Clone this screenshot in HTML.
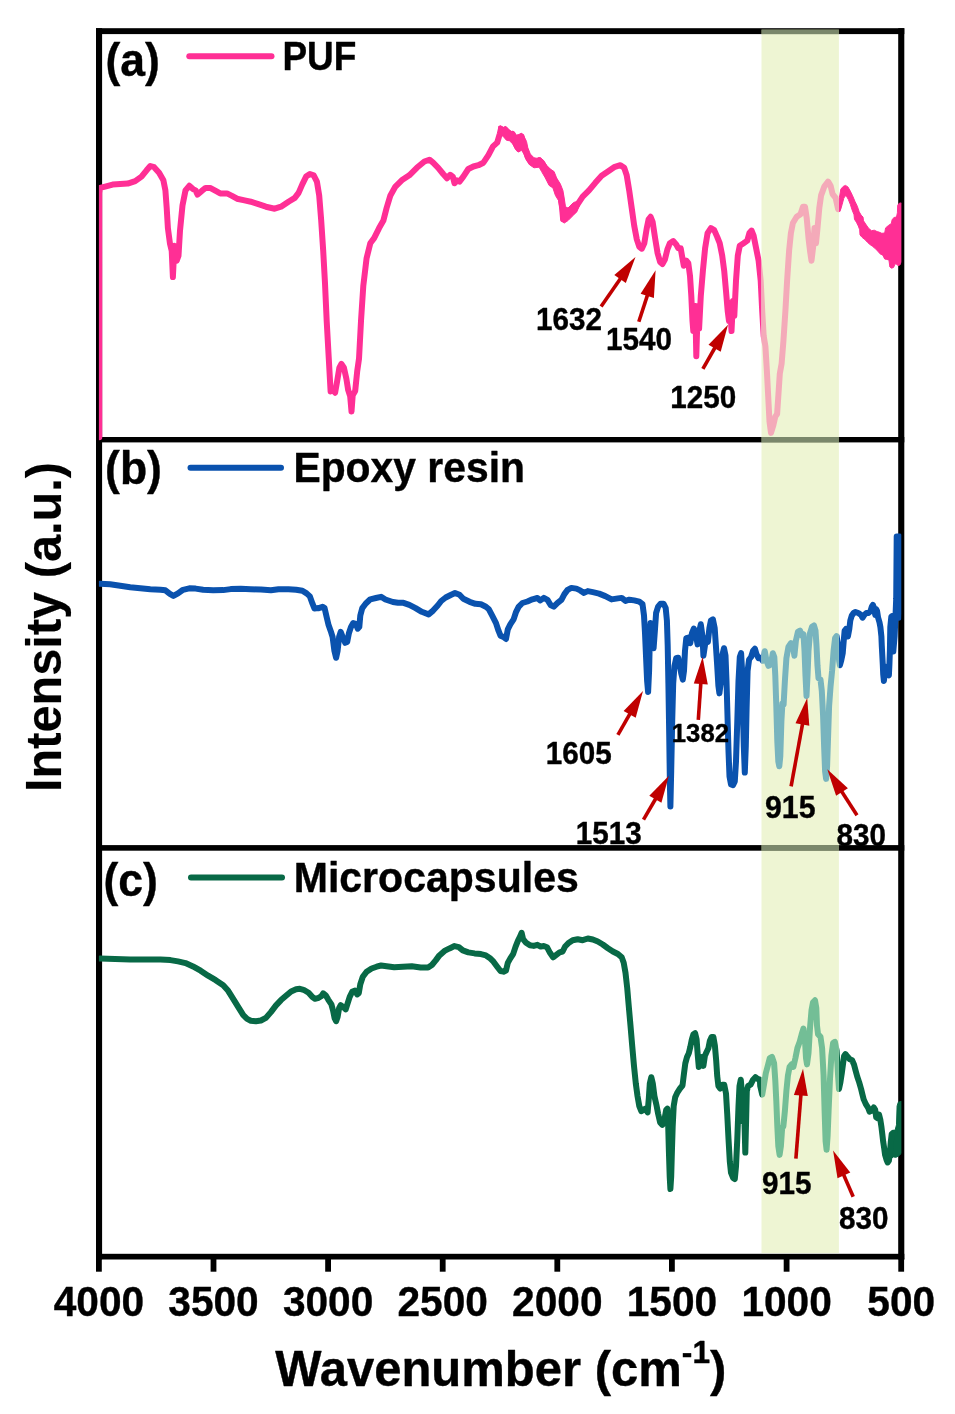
<!DOCTYPE html>
<html lang="en">
<head>
<meta charset="utf-8">
<title>FTIR spectra: PUF, Epoxy resin, Microcapsules</title>
<style>
html,body{margin:0;padding:0;background:#fff;}
body{width:955px;height:1414px;overflow:hidden;font-family:"Liberation Sans",Arial,sans-serif;}
svg{display:block;filter:blur(0.5px);}
</style>
</head>
<body>
<svg width="955" height="1414" viewBox="0 0 955 1414">
<rect width="955" height="1414" fill="#fff"/>
<g fill="#000">
<rect x="96" y="28.2" width="6.1" height="1231.3"/>
<rect x="898.2" y="28.2" width="6.1" height="1231.3"/>
<rect x="96" y="28.2" width="808.3" height="5.9"/>
<rect x="96" y="437" width="808.3" height="5.4"/>
<rect x="96" y="845.1" width="808.3" height="5.6"/>
<rect x="96" y="1253.8" width="808.3" height="5.7"/>
<rect x="96.0" y="1258" width="5.8" height="13.7"/>
<rect x="210.6" y="1258" width="5.8" height="13.7"/>
<rect x="325.2" y="1258" width="5.8" height="13.7"/>
<rect x="439.8" y="1258" width="5.8" height="13.7"/>
<rect x="554.4" y="1258" width="5.8" height="13.7"/>
<rect x="669.0" y="1258" width="5.8" height="13.7"/>
<rect x="783.7" y="1258" width="5.8" height="13.7"/>
<rect x="898.3" y="1258" width="5.8" height="13.7"/>
</g>
<rect x="761.5" y="29.6" width="77.4" height="1223.6" fill="rgb(224,237,175)" fill-opacity="0.55"/>
<rect x="761.5" y="29.6" width="77.4" height="4.5" fill="#7a876b"/>
<rect x="761.5" y="437" width="77.4" height="5.4" fill="#7a876b"/>
<rect x="761.5" y="845.1" width="77.4" height="5.6" fill="#7a876b"/>
<clipPath id="clipL"><rect x="98.9" y="0" width="662.6" height="1414"/></clipPath>
<clipPath id="clipR"><rect x="838.9" y="0" width="62.4" height="1414"/></clipPath>
<clipPath id="clipB"><rect x="761.5" y="0" width="77.4" height="1414"/></clipPath>
<g fill="none" stroke-linejoin="round" stroke-linecap="round" stroke-width="6" clip-path="url(#clipL)">
<polyline stroke="#ff2f95" points="99.3,437.2 99.3,192.9 100.0,187.9 105.1,186.6 112.6,184.6 120.2,184.1 127.7,183.6 135.2,181.1 141.5,176.6 146.6,170.3 150.3,166.0 154.1,167.2 159.1,172.8 163.4,180.3 165.4,190.4 166.7,208.0 167.9,228.1 169.9,243.2 171.7,250.7 172.9,277.1 174.4,245.7 176.7,260.7 178.5,255.7 180.0,230.6 182.5,205.4 185.5,190.4 189.3,185.8 193.0,189.1 195.6,190.4 197.6,194.6 201.8,190.9 205.6,187.9 210.1,187.9 215.7,190.9 220.2,193.4 227.0,193.4 232.0,195.9 237.0,198.7 244.6,200.4 250.8,201.7 258.4,204.2 265.9,206.7 274.7,208.7 281.0,206.7 288.5,201.7 294.8,197.9 298.6,192.9 302.4,184.1 306.1,176.6 309.9,174.0 313.7,175.3 316.9,181.6 319.2,195.4 321.2,220.5 323.2,250.7 325.0,283.4 326.7,321.1 328.8,358.8 330.6,391.4 333.1,390.2 335.1,392.7 337.1,381.4 339.4,367.6 341.4,363.8 343.9,367.6 346.4,378.9 348.2,390.2 350.2,396.4 351.5,411.5 352.7,395.2 355.2,390.9 357.2,371.3 359.0,358.8 361.0,321.1 363.3,285.9 366.6,258.2 370.3,243.2 374.1,238.1 379.1,228.1 383.4,220.5 386.6,208.0 390.4,195.4 395.4,186.6 401.7,180.3 409.3,175.3 416.8,167.8 424.4,161.5 429.4,159.7 433.1,162.7 438.2,167.8 443.2,174.0 447.0,178.3 450.2,174.8 452.8,176.6 454.5,183.3 457.0,180.3 459.5,181.6 463.3,176.6 468.3,169.0 473.4,166.5 478.4,165.2 483.4,162.7 488.4,155.2 493.0,146.4 497.2,142.6 499.8,133.8 501.0,128.8 503.0,132.6 504.8,129.6 506.8,135.1 508.5,132.6 510.6,137.6 512.6,133.8 514.8,141.4 516.6,145.1 518.6,148.9 520.1,141.4 521.6,136.3 523.1,143.9 524.9,148.9 527.4,156.4 531.2,162.7 536.2,164.0 539.2,160.2 542.5,164.0 545.0,167.8 550.0,174.0 553.8,179.1 557.6,186.6 560.6,195.4 562.1,208.0 563.1,219.3 566.4,216.8 570.2,213.0 573.9,210.5 577.7,204.2 582.7,196.7 589.0,190.4 595.3,182.8 601.6,175.8 607.9,171.5 614.1,167.2 620.4,165.2 624.2,167.8 626.7,175.3 629.2,190.4 631.7,208.0 634.2,225.6 636.8,239.4 639.3,246.9 641.8,248.7 644.3,243.2 646.8,228.1 648.6,219.3 650.6,216.8 652.6,221.8 655.1,238.1 657.6,253.2 660.1,262.0 662.4,264.0 664.9,259.5 667.4,249.4 669.9,243.2 673.2,241.1 676.2,244.4 678.2,248.2 680.7,248.2 682.0,255.7 683.8,265.8 686.3,260.7 688.3,263.2 690.0,275.8 691.3,295.9 692.5,321.1 693.3,331.1 695.3,306.0 696.3,356.2 697.8,306.0 699.1,328.6 700.8,295.9 702.9,270.8 705.1,248.2 707.6,233.1 710.9,228.1 714.2,230.1 717.2,236.9 719.7,243.2 722.2,255.7 724.2,270.8 726.0,290.9 727.7,311.0 729.0,321.1 730.2,303.5 731.5,331.1 733.0,300.9 734.3,316.0 736.0,280.8 737.8,255.7 739.8,245.7 743.6,243.2 747.3,240.6 749.4,233.1 751.6,230.6 753.6,235.6 756.1,248.2 758.6,260.7 760.7,280.8 762.2,311.0 763.7,336.1 765.4,346.2 766.9,371.3 768.2,396.4 769.5,421.6 771.0,432.9 773.3,425.4 775.3,416.6 777.1,414.0 778.3,396.4 779.8,373.8 781.6,363.8 783.4,341.2 785.4,311.0 787.1,280.8 789.1,250.7 790.9,233.1 792.9,223.0 796.7,216.8 800.5,214.2 803.0,206.7 805.0,206.7 806.7,218.0 808.5,238.1 810.0,250.7 811.5,260.7 813.0,248.2 814.5,228.1 816.0,243.2 817.5,228.1 819.3,208.0 821.1,195.4 824.3,186.6 828.1,181.6 830.6,185.8 832.6,194.1 835.6,197.9 838.1,209.2"/>
<polygon stroke="#ff2f95" stroke-width="1" fill="#ff2f95" points="839.0,209.9 839.4,197.7 840.8,189.2 843.2,186.4 845.5,185.4 847.9,186.9 850.3,191.1 852.6,195.8 855.0,201.5 857.3,206.2 859.2,211.8 861.1,215.1 863.0,217.0 863.5,220.8 866.3,225.0 868.6,228.3 871.5,230.7 874.3,230.2 877.1,231.6 879.0,232.1 881.8,233.3 884.7,233.0 885.6,227.9 888.4,225.5 891.3,223.6 892.2,219.4 894.1,217.5 896.5,217.0 897.4,212.8 897.7,205.2 899.3,203.2 901.6,202.9 901.6,261.8 899.8,265.1 897.9,265.6 896.0,263.7 895.0,264.1 893.6,267.4 891.7,268.2 889.9,267.0 888.9,259.9 886.5,259.4 884.7,259.0 882.8,255.2 880.0,253.8 878.1,251.4 875.2,248.6 872.4,246.2 869.6,244.3 867.2,242.0 864.9,239.6 862.0,237.3 860.0,234.9 859.7,229.8 858.3,226.0 856.4,222.2 854.5,219.4 854.0,214.7 852.1,209.9 850.3,204.3 848.4,199.6 846.5,196.3 845.1,195.8 843.7,198.6 842.2,204.3 840.8,209.0 839.0,211.4"/>
<polygon stroke="#ff2f95" stroke-width="1" fill="#ff2f95" points="498.9,126.3 500.7,125.7 503.2,127.6 505.8,126.3 508.3,128.8 510.8,131.4 513.3,131.4 516.4,135.1 519.0,134.5 521.5,133.2 524.0,136.4 526.5,141.4 527.8,147.7 530.3,154.0 534.0,157.8 537.8,158.4 540.3,157.8 543.5,160.3 546.6,165.3 550.4,169.1 554.1,171.6 556.6,177.9 560.4,184.1 562.9,190.4 564.2,198.0 565.5,206.8 568.0,208.0 573.0,203.0 575.5,201.7 579.3,205.5 576.8,211.8 573.0,215.6 568.0,220.6 564.2,223.1 561.0,220.6 560.4,210.5 558.5,200.5 555.4,195.4 552.9,187.9 549.1,185.4 545.3,177.9 541.6,171.6 539.1,167.2 534.0,167.8 530.3,165.3 526.5,160.3 524.0,154.0 521.5,150.2 518.3,152.1 515.2,148.9 512.7,143.9 509.5,140.8 506.4,140.2 503.2,136.4 501.4,135.1 500.1,132.6 498.9,130.1"/>
<polygon stroke="#086946" stroke-width="1" fill="#086946" points="891.3,1133.3 893.1,1130.5 895.0,1130.5 896.5,1124.8 897.1,1106.0 898.3,1102.2 901.6,1101.3 901.6,1153.1 898.8,1155.9 896.0,1157.3 893.1,1156.9 891.3,1158.8 890.3,1159.7"/>
<polyline stroke="#0a52ae" points="100.0,583.8 110.1,584.3 120.2,585.8 130.2,587.3 140.3,588.3 150.3,589.3 160.4,589.8 165.4,590.3 169.9,593.9 173.4,595.9 178.0,593.4 183.0,589.8 189.3,588.3 195.6,588.6 203.1,589.8 213.2,590.3 223.2,590.1 230.7,589.1 240.8,588.8 250.8,589.3 260.9,589.6 270.9,590.3 278.5,589.3 288.5,589.3 296.1,589.8 302.4,590.8 306.6,593.4 309.9,596.4 312.4,603.4 314.4,608.4 318.7,607.9 318.8,608.1 322.6,606.8 324.6,608.1 326.6,616.9 328.4,624.4 330.6,630.7 332.6,637.0 334.4,650.8 336.1,657.8 337.6,650.8 339.1,637.0 340.7,631.9 342.7,637.0 345.2,642.8 347.2,642.0 348.9,633.2 351.0,626.9 353.2,623.1 355.7,623.9 357.8,628.7 359.3,626.9 360.3,615.6 362.3,608.1 365.8,603.5 370.3,599.3 375.9,598.0 381.1,596.8 385.4,599.5 392.9,602.0 398.0,602.8 403.5,602.8 409.3,604.8 415.6,608.1 421.8,611.8 428.6,614.4 433.1,610.6 437.7,605.5 441.2,601.0 445.7,597.5 450.7,595.0 455.0,593.0 459.5,594.8 463.3,598.8 469.6,601.8 475.4,603.8 480.9,604.3 485.9,606.8 488.9,609.3 492.2,615.6 496.0,623.1 498.5,630.7 500.5,635.7 503.5,637.0 506.0,639.0 507.8,629.4 510.3,624.4 513.6,619.4 516.1,611.8 518.6,606.8 522.4,603.0 527.4,601.5 532.4,599.3 537.4,598.0 540.0,600.4 543.8,597.9 547.5,599.9 550.6,605.0 553.8,606.7 557.6,602.9 561.4,599.9 564.4,594.1 567.6,589.9 571.4,587.9 576.4,588.6 580.2,590.4 584.0,592.9 587.8,591.1 592.8,592.1 599.1,593.6 605.3,596.1 611.6,599.4 617.9,598.4 621.7,597.9 625.5,600.9 629.2,599.7 634.2,600.4 639.3,601.7 642.5,604.2 644.0,615.5 645.0,633.1 646.1,658.2 647.1,680.8 648.1,692.1 649.1,670.8 649.8,640.6 650.6,623.0 652.1,635.6 653.6,648.2 654.9,630.6 656.1,613.0 658.1,606.7 660.6,603.7 663.6,603.7 665.7,608.0 666.9,620.5 667.7,645.7 668.4,683.4 669.2,733.6 669.9,783.9 670.4,806.5 671.2,771.3 672.2,721.1 673.2,683.4 674.5,665.8 676.2,658.2 678.2,657.7 679.7,664.5 681.2,673.3 682.8,679.6 684.0,670.8 685.0,650.7 686.3,638.1 688.3,637.6 690.3,643.1 692.0,633.1 693.8,628.6 695.8,634.4 697.6,644.4 698.8,633.1 700.8,624.3 702.4,635.6 703.4,655.7 704.9,645.7 706.4,638.1 707.9,641.9 709.4,628.1 710.9,620.5 712.9,619.3 714.7,628.1 715.9,645.7 717.2,665.8 718.4,685.9 719.4,693.4 721.0,680.8 722.2,655.7 724.0,648.2 725.5,655.7 726.5,680.8 727.5,716.0 728.5,751.2 729.5,776.4 731.0,784.4 733.0,785.1 734.8,781.4 736.0,761.3 737.3,721.1 738.5,680.8 739.8,657.0 741.1,653.2 742.1,670.8 742.8,708.5 743.8,746.2 744.8,772.6 745.8,746.2 746.6,708.5 747.6,670.8 749.1,659.5 751.1,657.0 753.1,650.7 754.9,648.7 756.6,654.5 758.6,658.2 760.7,657.7 762.8,660.7 764.8,651.2 766.5,660.7 768.5,665.8 770.8,664.5 772.8,653.2 774.3,657.0 775.3,675.8 776.3,706.0 777.3,741.2 778.3,761.3 779.3,766.3 780.3,756.2 781.4,721.1 782.4,703.5 783.6,704.7 784.9,680.8 786.4,658.2 788.4,646.9 790.9,643.1 792.9,645.7 794.4,655.7 795.9,640.6 797.9,631.8 800.0,630.6 802.0,635.6 803.5,634.4 804.5,650.7 805.5,675.8 806.5,695.9 807.5,675.8 808.5,650.7 810.0,633.1 812.0,626.8 814.0,625.5 815.5,630.6 816.5,645.7 817.5,665.8 818.5,678.3 820.5,679.6 821.8,690.9 823.1,716.0 824.1,746.2 825.1,771.3 826.1,778.9 827.1,766.3 828.1,736.1 829.1,706.0 830.6,685.9 832.1,670.8 833.6,650.7 835.1,638.1 836.6,636.1 838.1,645.7 839.1,660.7 839.9,665.3 841.3,660.1 842.7,653.5 843.7,641.3 844.6,630.9 846.0,629.0 847.4,630.9 847.9,636.5 849.3,629.0 850.3,620.5 851.7,615.8 853.6,613.0 855.5,612.0 858.3,613.0 861.1,614.9 862.5,617.7 864.4,614.9 866.3,613.0 868.6,613.0 870.5,611.1 871.9,606.4 872.9,605.0 874.3,608.3 875.2,614.9 876.2,609.2 877.1,611.1 878.1,617.7 879.5,622.4 880.4,627.1 881.4,636.5 881.8,646.0 882.3,655.4 882.8,664.8 883.2,674.2 883.9,680.9 884.7,674.2 885.6,666.7 886.5,670.5 888.0,674.2 888.9,675.2 889.4,664.8 889.9,650.7 890.3,627.1 891.3,616.8 892.7,615.8 893.6,627.1 893.3,651.6 894.6,636.5 895.5,615.8 896.2,598.9 896.7,536.6 899.3,536.6 899.8,603.6 898.6,617.7"/>
<polyline stroke="#086946" points="100.0,958.6 115.1,958.9 130.2,959.4 145.3,959.4 160.4,959.4 170.4,960.1 178.0,961.4 185.5,963.1 193.0,966.4 200.6,970.7 208.1,975.7 215.7,980.2 223.2,985.3 228.2,990.8 233.2,998.8 238.3,1007.1 243.3,1015.2 247.1,1018.9 250.8,1020.7 255.9,1021.2 260.9,1020.5 265.9,1017.9 270.9,1012.1 276.0,1005.4 281.0,1000.1 286.0,995.8 291.1,991.5 296.1,989.3 299.9,988.8 303.6,989.8 308.6,992.8 312.4,997.1 314.9,998.8 318.7,997.8 321.2,996.3 323.2,993.3 325.7,995.3 328.2,999.6 331.4,1004.4 333.1,1010.7 334.6,1018.2 336.1,1021.2 337.6,1017.0 339.1,1008.2 340.7,1005.2 343.2,1006.9 345.7,1009.4 347.7,1003.1 349.7,996.9 352.2,991.8 354.7,990.6 357.2,994.4 358.8,993.1 360.3,984.3 362.8,976.8 366.6,971.7 371.6,968.5 376.6,966.7 381.1,965.5 386.6,966.2 394.2,967.2 403.0,966.7 411.8,966.2 420.6,967.5 428.1,967.5 431.9,965.0 435.7,960.4 439.4,955.4 444.5,950.9 449.5,948.4 454.5,946.1 458.8,947.1 462.8,950.4 468.3,952.4 474.6,953.4 480.9,954.1 485.9,955.4 489.7,957.9 493.5,961.7 497.2,966.7 500.5,971.0 503.5,971.7 506.0,970.5 507.8,962.9 510.3,958.4 513.1,954.1 515.6,946.6 518.1,940.3 520.1,936.5 521.6,932.8 523.1,939.1 526.1,942.8 529.9,945.3 533.7,945.9 537.4,944.8 540.7,946.6 543.8,946.0 547.0,947.2 550.0,952.8 553.1,957.3 556.3,954.8 559.6,952.3 562.6,951.5 565.1,946.5 568.9,942.7 572.7,940.2 577.7,939.2 582.7,940.2 587.8,938.5 592.8,939.5 597.8,941.5 602.8,944.5 607.9,948.2 612.9,951.5 617.9,954.0 621.7,957.3 623.7,962.8 625.5,972.9 627.2,988.0 628.7,1005.5 630.5,1025.7 632.2,1045.8 634.0,1065.9 635.8,1083.5 637.5,1096.0 639.3,1106.1 641.3,1111.1 643.5,1109.8 645.5,1108.6 647.6,1112.4 648.8,1098.5 649.8,1083.5 651.3,1077.2 652.8,1083.5 654.4,1096.0 656.4,1104.8 658.1,1113.6 660.1,1122.4 662.4,1124.9 664.4,1119.9 666.2,1109.8 667.4,1108.6 668.2,1126.2 668.9,1151.3 669.7,1176.5 670.4,1189.0 671.2,1176.5 671.9,1151.3 672.7,1126.2 673.7,1106.1 675.2,1097.3 677.5,1092.3 680.0,1088.5 682.5,1085.5 684.0,1073.4 685.3,1063.4 687.0,1057.1 688.8,1053.3 690.3,1047.0 691.8,1039.5 693.3,1034.5 695.1,1033.2 696.6,1039.5 697.8,1055.8 698.8,1067.1 700.3,1060.8 701.9,1057.1 703.4,1065.9 704.9,1055.8 706.6,1052.0 708.4,1048.3 709.9,1040.7 711.6,1037.0 713.4,1037.0 714.9,1045.8 716.2,1060.8 717.2,1075.9 718.4,1086.0 720.2,1088.5 722.2,1084.7 724.2,1084.7 726.0,1093.5 727.2,1113.6 728.5,1138.8 729.8,1161.4 731.0,1172.7 733.0,1177.7 734.8,1179.0 736.0,1166.4 737.3,1138.8 738.5,1106.1 739.5,1086.0 740.8,1079.7 741.8,1091.0 742.6,1121.2 743.6,1096.0 744.6,1126.2 745.3,1152.6 746.1,1121.2 746.8,1091.0 748.1,1086.0 750.6,1084.7 753.1,1079.7 755.4,1077.2 757.6,1078.9 759.9,1079.7 760.2,1085.8 762.2,1094.6 764.0,1084.5 765.8,1073.2 767.8,1065.7 769.8,1058.1 772.0,1056.9 774.1,1063.2 775.3,1080.7 776.3,1100.8 777.3,1126.0 778.3,1146.1 779.6,1154.9 780.9,1146.1 782.1,1128.5 783.4,1126.0 784.9,1110.9 786.4,1090.8 787.9,1075.7 789.6,1066.9 791.6,1064.4 793.4,1066.9 795.4,1058.1 797.4,1048.1 799.7,1041.8 801.7,1034.2 803.5,1028.5 805.0,1040.5 806.0,1058.1 807.0,1064.4 808.5,1053.1 810.0,1028.0 811.5,1010.4 813.0,1002.3 815.0,1000.3 816.3,1007.9 817.0,1025.5 818.0,1034.2 820.5,1036.8 822.1,1048.1 823.6,1075.7 824.6,1110.9 825.6,1141.1 826.6,1149.8 827.6,1136.0 828.6,1110.9 829.9,1080.7 831.4,1055.6 833.1,1043.0 834.9,1041.8 836.6,1050.6 838.1,1075.7 839.0,1089.0 840.4,1082.4 841.8,1073.0 843.2,1062.6 844.1,1056.0 845.5,1054.1 847.4,1056.5 849.8,1059.3 852.1,1060.3 854.0,1064.5 855.5,1070.2 857.3,1076.8 859.2,1082.4 861.1,1089.0 862.5,1094.7 863.7,1099.4 865.8,1104.1 868.2,1107.9 869.6,1111.6 871.5,1110.7 873.8,1107.4 875.2,1109.8 876.2,1117.3 877.6,1118.2 879.0,1114.5 880.4,1120.1 881.4,1126.7 882.3,1134.2 883.2,1141.8 884.2,1148.4 885.1,1155.0 886.5,1159.7 887.7,1162.5 888.9,1160.6 889.9,1153.1 890.8,1141.8 891.7,1134.2 893.1,1132.8 895.0,1132.8"/>
</g>
<g fill="none" stroke-linejoin="round" stroke-linecap="round" stroke-width="6" clip-path="url(#clipR)">
<polyline stroke="#ff2f95" points="99.3,437.2 99.3,192.9 100.0,187.9 105.1,186.6 112.6,184.6 120.2,184.1 127.7,183.6 135.2,181.1 141.5,176.6 146.6,170.3 150.3,166.0 154.1,167.2 159.1,172.8 163.4,180.3 165.4,190.4 166.7,208.0 167.9,228.1 169.9,243.2 171.7,250.7 172.9,277.1 174.4,245.7 176.7,260.7 178.5,255.7 180.0,230.6 182.5,205.4 185.5,190.4 189.3,185.8 193.0,189.1 195.6,190.4 197.6,194.6 201.8,190.9 205.6,187.9 210.1,187.9 215.7,190.9 220.2,193.4 227.0,193.4 232.0,195.9 237.0,198.7 244.6,200.4 250.8,201.7 258.4,204.2 265.9,206.7 274.7,208.7 281.0,206.7 288.5,201.7 294.8,197.9 298.6,192.9 302.4,184.1 306.1,176.6 309.9,174.0 313.7,175.3 316.9,181.6 319.2,195.4 321.2,220.5 323.2,250.7 325.0,283.4 326.7,321.1 328.8,358.8 330.6,391.4 333.1,390.2 335.1,392.7 337.1,381.4 339.4,367.6 341.4,363.8 343.9,367.6 346.4,378.9 348.2,390.2 350.2,396.4 351.5,411.5 352.7,395.2 355.2,390.9 357.2,371.3 359.0,358.8 361.0,321.1 363.3,285.9 366.6,258.2 370.3,243.2 374.1,238.1 379.1,228.1 383.4,220.5 386.6,208.0 390.4,195.4 395.4,186.6 401.7,180.3 409.3,175.3 416.8,167.8 424.4,161.5 429.4,159.7 433.1,162.7 438.2,167.8 443.2,174.0 447.0,178.3 450.2,174.8 452.8,176.6 454.5,183.3 457.0,180.3 459.5,181.6 463.3,176.6 468.3,169.0 473.4,166.5 478.4,165.2 483.4,162.7 488.4,155.2 493.0,146.4 497.2,142.6 499.8,133.8 501.0,128.8 503.0,132.6 504.8,129.6 506.8,135.1 508.5,132.6 510.6,137.6 512.6,133.8 514.8,141.4 516.6,145.1 518.6,148.9 520.1,141.4 521.6,136.3 523.1,143.9 524.9,148.9 527.4,156.4 531.2,162.7 536.2,164.0 539.2,160.2 542.5,164.0 545.0,167.8 550.0,174.0 553.8,179.1 557.6,186.6 560.6,195.4 562.1,208.0 563.1,219.3 566.4,216.8 570.2,213.0 573.9,210.5 577.7,204.2 582.7,196.7 589.0,190.4 595.3,182.8 601.6,175.8 607.9,171.5 614.1,167.2 620.4,165.2 624.2,167.8 626.7,175.3 629.2,190.4 631.7,208.0 634.2,225.6 636.8,239.4 639.3,246.9 641.8,248.7 644.3,243.2 646.8,228.1 648.6,219.3 650.6,216.8 652.6,221.8 655.1,238.1 657.6,253.2 660.1,262.0 662.4,264.0 664.9,259.5 667.4,249.4 669.9,243.2 673.2,241.1 676.2,244.4 678.2,248.2 680.7,248.2 682.0,255.7 683.8,265.8 686.3,260.7 688.3,263.2 690.0,275.8 691.3,295.9 692.5,321.1 693.3,331.1 695.3,306.0 696.3,356.2 697.8,306.0 699.1,328.6 700.8,295.9 702.9,270.8 705.1,248.2 707.6,233.1 710.9,228.1 714.2,230.1 717.2,236.9 719.7,243.2 722.2,255.7 724.2,270.8 726.0,290.9 727.7,311.0 729.0,321.1 730.2,303.5 731.5,331.1 733.0,300.9 734.3,316.0 736.0,280.8 737.8,255.7 739.8,245.7 743.6,243.2 747.3,240.6 749.4,233.1 751.6,230.6 753.6,235.6 756.1,248.2 758.6,260.7 760.7,280.8 762.2,311.0 763.7,336.1 765.4,346.2 766.9,371.3 768.2,396.4 769.5,421.6 771.0,432.9 773.3,425.4 775.3,416.6 777.1,414.0 778.3,396.4 779.8,373.8 781.6,363.8 783.4,341.2 785.4,311.0 787.1,280.8 789.1,250.7 790.9,233.1 792.9,223.0 796.7,216.8 800.5,214.2 803.0,206.7 805.0,206.7 806.7,218.0 808.5,238.1 810.0,250.7 811.5,260.7 813.0,248.2 814.5,228.1 816.0,243.2 817.5,228.1 819.3,208.0 821.1,195.4 824.3,186.6 828.1,181.6 830.6,185.8 832.6,194.1 835.6,197.9 838.1,209.2"/>
<polygon stroke="#ff2f95" stroke-width="1" fill="#ff2f95" points="839.0,209.9 839.4,197.7 840.8,189.2 843.2,186.4 845.5,185.4 847.9,186.9 850.3,191.1 852.6,195.8 855.0,201.5 857.3,206.2 859.2,211.8 861.1,215.1 863.0,217.0 863.5,220.8 866.3,225.0 868.6,228.3 871.5,230.7 874.3,230.2 877.1,231.6 879.0,232.1 881.8,233.3 884.7,233.0 885.6,227.9 888.4,225.5 891.3,223.6 892.2,219.4 894.1,217.5 896.5,217.0 897.4,212.8 897.7,205.2 899.3,203.2 901.6,202.9 901.6,261.8 899.8,265.1 897.9,265.6 896.0,263.7 895.0,264.1 893.6,267.4 891.7,268.2 889.9,267.0 888.9,259.9 886.5,259.4 884.7,259.0 882.8,255.2 880.0,253.8 878.1,251.4 875.2,248.6 872.4,246.2 869.6,244.3 867.2,242.0 864.9,239.6 862.0,237.3 860.0,234.9 859.7,229.8 858.3,226.0 856.4,222.2 854.5,219.4 854.0,214.7 852.1,209.9 850.3,204.3 848.4,199.6 846.5,196.3 845.1,195.8 843.7,198.6 842.2,204.3 840.8,209.0 839.0,211.4"/>
<polygon stroke="#086946" stroke-width="1" fill="#086946" points="891.3,1133.3 893.1,1130.5 895.0,1130.5 896.5,1124.8 897.1,1106.0 898.3,1102.2 901.6,1101.3 901.6,1153.1 898.8,1155.9 896.0,1157.3 893.1,1156.9 891.3,1158.8 890.3,1159.7"/>
<polyline stroke="#0a52ae" points="100.0,583.8 110.1,584.3 120.2,585.8 130.2,587.3 140.3,588.3 150.3,589.3 160.4,589.8 165.4,590.3 169.9,593.9 173.4,595.9 178.0,593.4 183.0,589.8 189.3,588.3 195.6,588.6 203.1,589.8 213.2,590.3 223.2,590.1 230.7,589.1 240.8,588.8 250.8,589.3 260.9,589.6 270.9,590.3 278.5,589.3 288.5,589.3 296.1,589.8 302.4,590.8 306.6,593.4 309.9,596.4 312.4,603.4 314.4,608.4 318.7,607.9 318.8,608.1 322.6,606.8 324.6,608.1 326.6,616.9 328.4,624.4 330.6,630.7 332.6,637.0 334.4,650.8 336.1,657.8 337.6,650.8 339.1,637.0 340.7,631.9 342.7,637.0 345.2,642.8 347.2,642.0 348.9,633.2 351.0,626.9 353.2,623.1 355.7,623.9 357.8,628.7 359.3,626.9 360.3,615.6 362.3,608.1 365.8,603.5 370.3,599.3 375.9,598.0 381.1,596.8 385.4,599.5 392.9,602.0 398.0,602.8 403.5,602.8 409.3,604.8 415.6,608.1 421.8,611.8 428.6,614.4 433.1,610.6 437.7,605.5 441.2,601.0 445.7,597.5 450.7,595.0 455.0,593.0 459.5,594.8 463.3,598.8 469.6,601.8 475.4,603.8 480.9,604.3 485.9,606.8 488.9,609.3 492.2,615.6 496.0,623.1 498.5,630.7 500.5,635.7 503.5,637.0 506.0,639.0 507.8,629.4 510.3,624.4 513.6,619.4 516.1,611.8 518.6,606.8 522.4,603.0 527.4,601.5 532.4,599.3 537.4,598.0 540.0,600.4 543.8,597.9 547.5,599.9 550.6,605.0 553.8,606.7 557.6,602.9 561.4,599.9 564.4,594.1 567.6,589.9 571.4,587.9 576.4,588.6 580.2,590.4 584.0,592.9 587.8,591.1 592.8,592.1 599.1,593.6 605.3,596.1 611.6,599.4 617.9,598.4 621.7,597.9 625.5,600.9 629.2,599.7 634.2,600.4 639.3,601.7 642.5,604.2 644.0,615.5 645.0,633.1 646.1,658.2 647.1,680.8 648.1,692.1 649.1,670.8 649.8,640.6 650.6,623.0 652.1,635.6 653.6,648.2 654.9,630.6 656.1,613.0 658.1,606.7 660.6,603.7 663.6,603.7 665.7,608.0 666.9,620.5 667.7,645.7 668.4,683.4 669.2,733.6 669.9,783.9 670.4,806.5 671.2,771.3 672.2,721.1 673.2,683.4 674.5,665.8 676.2,658.2 678.2,657.7 679.7,664.5 681.2,673.3 682.8,679.6 684.0,670.8 685.0,650.7 686.3,638.1 688.3,637.6 690.3,643.1 692.0,633.1 693.8,628.6 695.8,634.4 697.6,644.4 698.8,633.1 700.8,624.3 702.4,635.6 703.4,655.7 704.9,645.7 706.4,638.1 707.9,641.9 709.4,628.1 710.9,620.5 712.9,619.3 714.7,628.1 715.9,645.7 717.2,665.8 718.4,685.9 719.4,693.4 721.0,680.8 722.2,655.7 724.0,648.2 725.5,655.7 726.5,680.8 727.5,716.0 728.5,751.2 729.5,776.4 731.0,784.4 733.0,785.1 734.8,781.4 736.0,761.3 737.3,721.1 738.5,680.8 739.8,657.0 741.1,653.2 742.1,670.8 742.8,708.5 743.8,746.2 744.8,772.6 745.8,746.2 746.6,708.5 747.6,670.8 749.1,659.5 751.1,657.0 753.1,650.7 754.9,648.7 756.6,654.5 758.6,658.2 760.7,657.7 762.8,660.7 764.8,651.2 766.5,660.7 768.5,665.8 770.8,664.5 772.8,653.2 774.3,657.0 775.3,675.8 776.3,706.0 777.3,741.2 778.3,761.3 779.3,766.3 780.3,756.2 781.4,721.1 782.4,703.5 783.6,704.7 784.9,680.8 786.4,658.2 788.4,646.9 790.9,643.1 792.9,645.7 794.4,655.7 795.9,640.6 797.9,631.8 800.0,630.6 802.0,635.6 803.5,634.4 804.5,650.7 805.5,675.8 806.5,695.9 807.5,675.8 808.5,650.7 810.0,633.1 812.0,626.8 814.0,625.5 815.5,630.6 816.5,645.7 817.5,665.8 818.5,678.3 820.5,679.6 821.8,690.9 823.1,716.0 824.1,746.2 825.1,771.3 826.1,778.9 827.1,766.3 828.1,736.1 829.1,706.0 830.6,685.9 832.1,670.8 833.6,650.7 835.1,638.1 836.6,636.1 838.1,645.7 839.1,660.7 839.9,665.3 841.3,660.1 842.7,653.5 843.7,641.3 844.6,630.9 846.0,629.0 847.4,630.9 847.9,636.5 849.3,629.0 850.3,620.5 851.7,615.8 853.6,613.0 855.5,612.0 858.3,613.0 861.1,614.9 862.5,617.7 864.4,614.9 866.3,613.0 868.6,613.0 870.5,611.1 871.9,606.4 872.9,605.0 874.3,608.3 875.2,614.9 876.2,609.2 877.1,611.1 878.1,617.7 879.5,622.4 880.4,627.1 881.4,636.5 881.8,646.0 882.3,655.4 882.8,664.8 883.2,674.2 883.9,680.9 884.7,674.2 885.6,666.7 886.5,670.5 888.0,674.2 888.9,675.2 889.4,664.8 889.9,650.7 890.3,627.1 891.3,616.8 892.7,615.8 893.6,627.1 893.3,651.6 894.6,636.5 895.5,615.8 896.2,598.9 896.7,536.6 899.3,536.6 899.8,603.6 898.6,617.7"/>
<polyline stroke="#086946" points="100.0,958.6 115.1,958.9 130.2,959.4 145.3,959.4 160.4,959.4 170.4,960.1 178.0,961.4 185.5,963.1 193.0,966.4 200.6,970.7 208.1,975.7 215.7,980.2 223.2,985.3 228.2,990.8 233.2,998.8 238.3,1007.1 243.3,1015.2 247.1,1018.9 250.8,1020.7 255.9,1021.2 260.9,1020.5 265.9,1017.9 270.9,1012.1 276.0,1005.4 281.0,1000.1 286.0,995.8 291.1,991.5 296.1,989.3 299.9,988.8 303.6,989.8 308.6,992.8 312.4,997.1 314.9,998.8 318.7,997.8 321.2,996.3 323.2,993.3 325.7,995.3 328.2,999.6 331.4,1004.4 333.1,1010.7 334.6,1018.2 336.1,1021.2 337.6,1017.0 339.1,1008.2 340.7,1005.2 343.2,1006.9 345.7,1009.4 347.7,1003.1 349.7,996.9 352.2,991.8 354.7,990.6 357.2,994.4 358.8,993.1 360.3,984.3 362.8,976.8 366.6,971.7 371.6,968.5 376.6,966.7 381.1,965.5 386.6,966.2 394.2,967.2 403.0,966.7 411.8,966.2 420.6,967.5 428.1,967.5 431.9,965.0 435.7,960.4 439.4,955.4 444.5,950.9 449.5,948.4 454.5,946.1 458.8,947.1 462.8,950.4 468.3,952.4 474.6,953.4 480.9,954.1 485.9,955.4 489.7,957.9 493.5,961.7 497.2,966.7 500.5,971.0 503.5,971.7 506.0,970.5 507.8,962.9 510.3,958.4 513.1,954.1 515.6,946.6 518.1,940.3 520.1,936.5 521.6,932.8 523.1,939.1 526.1,942.8 529.9,945.3 533.7,945.9 537.4,944.8 540.7,946.6 543.8,946.0 547.0,947.2 550.0,952.8 553.1,957.3 556.3,954.8 559.6,952.3 562.6,951.5 565.1,946.5 568.9,942.7 572.7,940.2 577.7,939.2 582.7,940.2 587.8,938.5 592.8,939.5 597.8,941.5 602.8,944.5 607.9,948.2 612.9,951.5 617.9,954.0 621.7,957.3 623.7,962.8 625.5,972.9 627.2,988.0 628.7,1005.5 630.5,1025.7 632.2,1045.8 634.0,1065.9 635.8,1083.5 637.5,1096.0 639.3,1106.1 641.3,1111.1 643.5,1109.8 645.5,1108.6 647.6,1112.4 648.8,1098.5 649.8,1083.5 651.3,1077.2 652.8,1083.5 654.4,1096.0 656.4,1104.8 658.1,1113.6 660.1,1122.4 662.4,1124.9 664.4,1119.9 666.2,1109.8 667.4,1108.6 668.2,1126.2 668.9,1151.3 669.7,1176.5 670.4,1189.0 671.2,1176.5 671.9,1151.3 672.7,1126.2 673.7,1106.1 675.2,1097.3 677.5,1092.3 680.0,1088.5 682.5,1085.5 684.0,1073.4 685.3,1063.4 687.0,1057.1 688.8,1053.3 690.3,1047.0 691.8,1039.5 693.3,1034.5 695.1,1033.2 696.6,1039.5 697.8,1055.8 698.8,1067.1 700.3,1060.8 701.9,1057.1 703.4,1065.9 704.9,1055.8 706.6,1052.0 708.4,1048.3 709.9,1040.7 711.6,1037.0 713.4,1037.0 714.9,1045.8 716.2,1060.8 717.2,1075.9 718.4,1086.0 720.2,1088.5 722.2,1084.7 724.2,1084.7 726.0,1093.5 727.2,1113.6 728.5,1138.8 729.8,1161.4 731.0,1172.7 733.0,1177.7 734.8,1179.0 736.0,1166.4 737.3,1138.8 738.5,1106.1 739.5,1086.0 740.8,1079.7 741.8,1091.0 742.6,1121.2 743.6,1096.0 744.6,1126.2 745.3,1152.6 746.1,1121.2 746.8,1091.0 748.1,1086.0 750.6,1084.7 753.1,1079.7 755.4,1077.2 757.6,1078.9 759.9,1079.7 760.2,1085.8 762.2,1094.6 764.0,1084.5 765.8,1073.2 767.8,1065.7 769.8,1058.1 772.0,1056.9 774.1,1063.2 775.3,1080.7 776.3,1100.8 777.3,1126.0 778.3,1146.1 779.6,1154.9 780.9,1146.1 782.1,1128.5 783.4,1126.0 784.9,1110.9 786.4,1090.8 787.9,1075.7 789.6,1066.9 791.6,1064.4 793.4,1066.9 795.4,1058.1 797.4,1048.1 799.7,1041.8 801.7,1034.2 803.5,1028.5 805.0,1040.5 806.0,1058.1 807.0,1064.4 808.5,1053.1 810.0,1028.0 811.5,1010.4 813.0,1002.3 815.0,1000.3 816.3,1007.9 817.0,1025.5 818.0,1034.2 820.5,1036.8 822.1,1048.1 823.6,1075.7 824.6,1110.9 825.6,1141.1 826.6,1149.8 827.6,1136.0 828.6,1110.9 829.9,1080.7 831.4,1055.6 833.1,1043.0 834.9,1041.8 836.6,1050.6 838.1,1075.7 839.0,1089.0 840.4,1082.4 841.8,1073.0 843.2,1062.6 844.1,1056.0 845.5,1054.1 847.4,1056.5 849.8,1059.3 852.1,1060.3 854.0,1064.5 855.5,1070.2 857.3,1076.8 859.2,1082.4 861.1,1089.0 862.5,1094.7 863.7,1099.4 865.8,1104.1 868.2,1107.9 869.6,1111.6 871.5,1110.7 873.8,1107.4 875.2,1109.8 876.2,1117.3 877.6,1118.2 879.0,1114.5 880.4,1120.1 881.4,1126.7 882.3,1134.2 883.2,1141.8 884.2,1148.4 885.1,1155.0 886.5,1159.7 887.7,1162.5 888.9,1160.6 889.9,1153.1 890.8,1141.8 891.7,1134.2 893.1,1132.8 895.0,1132.8"/>
</g>
<g fill="none" stroke-linejoin="round" stroke-linecap="round" stroke-width="6" clip-path="url(#clipB)">
<polyline stroke="#f4aab9" points="99.3,437.2 99.3,192.9 100.0,187.9 105.1,186.6 112.6,184.6 120.2,184.1 127.7,183.6 135.2,181.1 141.5,176.6 146.6,170.3 150.3,166.0 154.1,167.2 159.1,172.8 163.4,180.3 165.4,190.4 166.7,208.0 167.9,228.1 169.9,243.2 171.7,250.7 172.9,277.1 174.4,245.7 176.7,260.7 178.5,255.7 180.0,230.6 182.5,205.4 185.5,190.4 189.3,185.8 193.0,189.1 195.6,190.4 197.6,194.6 201.8,190.9 205.6,187.9 210.1,187.9 215.7,190.9 220.2,193.4 227.0,193.4 232.0,195.9 237.0,198.7 244.6,200.4 250.8,201.7 258.4,204.2 265.9,206.7 274.7,208.7 281.0,206.7 288.5,201.7 294.8,197.9 298.6,192.9 302.4,184.1 306.1,176.6 309.9,174.0 313.7,175.3 316.9,181.6 319.2,195.4 321.2,220.5 323.2,250.7 325.0,283.4 326.7,321.1 328.8,358.8 330.6,391.4 333.1,390.2 335.1,392.7 337.1,381.4 339.4,367.6 341.4,363.8 343.9,367.6 346.4,378.9 348.2,390.2 350.2,396.4 351.5,411.5 352.7,395.2 355.2,390.9 357.2,371.3 359.0,358.8 361.0,321.1 363.3,285.9 366.6,258.2 370.3,243.2 374.1,238.1 379.1,228.1 383.4,220.5 386.6,208.0 390.4,195.4 395.4,186.6 401.7,180.3 409.3,175.3 416.8,167.8 424.4,161.5 429.4,159.7 433.1,162.7 438.2,167.8 443.2,174.0 447.0,178.3 450.2,174.8 452.8,176.6 454.5,183.3 457.0,180.3 459.5,181.6 463.3,176.6 468.3,169.0 473.4,166.5 478.4,165.2 483.4,162.7 488.4,155.2 493.0,146.4 497.2,142.6 499.8,133.8 501.0,128.8 503.0,132.6 504.8,129.6 506.8,135.1 508.5,132.6 510.6,137.6 512.6,133.8 514.8,141.4 516.6,145.1 518.6,148.9 520.1,141.4 521.6,136.3 523.1,143.9 524.9,148.9 527.4,156.4 531.2,162.7 536.2,164.0 539.2,160.2 542.5,164.0 545.0,167.8 550.0,174.0 553.8,179.1 557.6,186.6 560.6,195.4 562.1,208.0 563.1,219.3 566.4,216.8 570.2,213.0 573.9,210.5 577.7,204.2 582.7,196.7 589.0,190.4 595.3,182.8 601.6,175.8 607.9,171.5 614.1,167.2 620.4,165.2 624.2,167.8 626.7,175.3 629.2,190.4 631.7,208.0 634.2,225.6 636.8,239.4 639.3,246.9 641.8,248.7 644.3,243.2 646.8,228.1 648.6,219.3 650.6,216.8 652.6,221.8 655.1,238.1 657.6,253.2 660.1,262.0 662.4,264.0 664.9,259.5 667.4,249.4 669.9,243.2 673.2,241.1 676.2,244.4 678.2,248.2 680.7,248.2 682.0,255.7 683.8,265.8 686.3,260.7 688.3,263.2 690.0,275.8 691.3,295.9 692.5,321.1 693.3,331.1 695.3,306.0 696.3,356.2 697.8,306.0 699.1,328.6 700.8,295.9 702.9,270.8 705.1,248.2 707.6,233.1 710.9,228.1 714.2,230.1 717.2,236.9 719.7,243.2 722.2,255.7 724.2,270.8 726.0,290.9 727.7,311.0 729.0,321.1 730.2,303.5 731.5,331.1 733.0,300.9 734.3,316.0 736.0,280.8 737.8,255.7 739.8,245.7 743.6,243.2 747.3,240.6 749.4,233.1 751.6,230.6 753.6,235.6 756.1,248.2 758.6,260.7 760.7,280.8 762.2,311.0 763.7,336.1 765.4,346.2 766.9,371.3 768.2,396.4 769.5,421.6 771.0,432.9 773.3,425.4 775.3,416.6 777.1,414.0 778.3,396.4 779.8,373.8 781.6,363.8 783.4,341.2 785.4,311.0 787.1,280.8 789.1,250.7 790.9,233.1 792.9,223.0 796.7,216.8 800.5,214.2 803.0,206.7 805.0,206.7 806.7,218.0 808.5,238.1 810.0,250.7 811.5,260.7 813.0,248.2 814.5,228.1 816.0,243.2 817.5,228.1 819.3,208.0 821.1,195.4 824.3,186.6 828.1,181.6 830.6,185.8 832.6,194.1 835.6,197.9 838.1,209.2"/>
<polygon stroke="#f4aab9" stroke-width="1" fill="#f4aab9" points="839.0,209.9 839.4,197.7 840.8,189.2 843.2,186.4 845.5,185.4 847.9,186.9 850.3,191.1 852.6,195.8 855.0,201.5 857.3,206.2 859.2,211.8 861.1,215.1 863.0,217.0 863.5,220.8 866.3,225.0 868.6,228.3 871.5,230.7 874.3,230.2 877.1,231.6 879.0,232.1 881.8,233.3 884.7,233.0 885.6,227.9 888.4,225.5 891.3,223.6 892.2,219.4 894.1,217.5 896.5,217.0 897.4,212.8 897.7,205.2 899.3,203.2 901.6,202.9 901.6,261.8 899.8,265.1 897.9,265.6 896.0,263.7 895.0,264.1 893.6,267.4 891.7,268.2 889.9,267.0 888.9,259.9 886.5,259.4 884.7,259.0 882.8,255.2 880.0,253.8 878.1,251.4 875.2,248.6 872.4,246.2 869.6,244.3 867.2,242.0 864.9,239.6 862.0,237.3 860.0,234.9 859.7,229.8 858.3,226.0 856.4,222.2 854.5,219.4 854.0,214.7 852.1,209.9 850.3,204.3 848.4,199.6 846.5,196.3 845.1,195.8 843.7,198.6 842.2,204.3 840.8,209.0 839.0,211.4"/>
<polygon stroke="#73be96" stroke-width="1" fill="#73be96" points="891.3,1133.3 893.1,1130.5 895.0,1130.5 896.5,1124.8 897.1,1106.0 898.3,1102.2 901.6,1101.3 901.6,1153.1 898.8,1155.9 896.0,1157.3 893.1,1156.9 891.3,1158.8 890.3,1159.7"/>
<polyline stroke="#78b4be" points="100.0,583.8 110.1,584.3 120.2,585.8 130.2,587.3 140.3,588.3 150.3,589.3 160.4,589.8 165.4,590.3 169.9,593.9 173.4,595.9 178.0,593.4 183.0,589.8 189.3,588.3 195.6,588.6 203.1,589.8 213.2,590.3 223.2,590.1 230.7,589.1 240.8,588.8 250.8,589.3 260.9,589.6 270.9,590.3 278.5,589.3 288.5,589.3 296.1,589.8 302.4,590.8 306.6,593.4 309.9,596.4 312.4,603.4 314.4,608.4 318.7,607.9 318.8,608.1 322.6,606.8 324.6,608.1 326.6,616.9 328.4,624.4 330.6,630.7 332.6,637.0 334.4,650.8 336.1,657.8 337.6,650.8 339.1,637.0 340.7,631.9 342.7,637.0 345.2,642.8 347.2,642.0 348.9,633.2 351.0,626.9 353.2,623.1 355.7,623.9 357.8,628.7 359.3,626.9 360.3,615.6 362.3,608.1 365.8,603.5 370.3,599.3 375.9,598.0 381.1,596.8 385.4,599.5 392.9,602.0 398.0,602.8 403.5,602.8 409.3,604.8 415.6,608.1 421.8,611.8 428.6,614.4 433.1,610.6 437.7,605.5 441.2,601.0 445.7,597.5 450.7,595.0 455.0,593.0 459.5,594.8 463.3,598.8 469.6,601.8 475.4,603.8 480.9,604.3 485.9,606.8 488.9,609.3 492.2,615.6 496.0,623.1 498.5,630.7 500.5,635.7 503.5,637.0 506.0,639.0 507.8,629.4 510.3,624.4 513.6,619.4 516.1,611.8 518.6,606.8 522.4,603.0 527.4,601.5 532.4,599.3 537.4,598.0 540.0,600.4 543.8,597.9 547.5,599.9 550.6,605.0 553.8,606.7 557.6,602.9 561.4,599.9 564.4,594.1 567.6,589.9 571.4,587.9 576.4,588.6 580.2,590.4 584.0,592.9 587.8,591.1 592.8,592.1 599.1,593.6 605.3,596.1 611.6,599.4 617.9,598.4 621.7,597.9 625.5,600.9 629.2,599.7 634.2,600.4 639.3,601.7 642.5,604.2 644.0,615.5 645.0,633.1 646.1,658.2 647.1,680.8 648.1,692.1 649.1,670.8 649.8,640.6 650.6,623.0 652.1,635.6 653.6,648.2 654.9,630.6 656.1,613.0 658.1,606.7 660.6,603.7 663.6,603.7 665.7,608.0 666.9,620.5 667.7,645.7 668.4,683.4 669.2,733.6 669.9,783.9 670.4,806.5 671.2,771.3 672.2,721.1 673.2,683.4 674.5,665.8 676.2,658.2 678.2,657.7 679.7,664.5 681.2,673.3 682.8,679.6 684.0,670.8 685.0,650.7 686.3,638.1 688.3,637.6 690.3,643.1 692.0,633.1 693.8,628.6 695.8,634.4 697.6,644.4 698.8,633.1 700.8,624.3 702.4,635.6 703.4,655.7 704.9,645.7 706.4,638.1 707.9,641.9 709.4,628.1 710.9,620.5 712.9,619.3 714.7,628.1 715.9,645.7 717.2,665.8 718.4,685.9 719.4,693.4 721.0,680.8 722.2,655.7 724.0,648.2 725.5,655.7 726.5,680.8 727.5,716.0 728.5,751.2 729.5,776.4 731.0,784.4 733.0,785.1 734.8,781.4 736.0,761.3 737.3,721.1 738.5,680.8 739.8,657.0 741.1,653.2 742.1,670.8 742.8,708.5 743.8,746.2 744.8,772.6 745.8,746.2 746.6,708.5 747.6,670.8 749.1,659.5 751.1,657.0 753.1,650.7 754.9,648.7 756.6,654.5 758.6,658.2 760.7,657.7 762.8,660.7 764.8,651.2 766.5,660.7 768.5,665.8 770.8,664.5 772.8,653.2 774.3,657.0 775.3,675.8 776.3,706.0 777.3,741.2 778.3,761.3 779.3,766.3 780.3,756.2 781.4,721.1 782.4,703.5 783.6,704.7 784.9,680.8 786.4,658.2 788.4,646.9 790.9,643.1 792.9,645.7 794.4,655.7 795.9,640.6 797.9,631.8 800.0,630.6 802.0,635.6 803.5,634.4 804.5,650.7 805.5,675.8 806.5,695.9 807.5,675.8 808.5,650.7 810.0,633.1 812.0,626.8 814.0,625.5 815.5,630.6 816.5,645.7 817.5,665.8 818.5,678.3 820.5,679.6 821.8,690.9 823.1,716.0 824.1,746.2 825.1,771.3 826.1,778.9 827.1,766.3 828.1,736.1 829.1,706.0 830.6,685.9 832.1,670.8 833.6,650.7 835.1,638.1 836.6,636.1 838.1,645.7 839.1,660.7 839.9,665.3 841.3,660.1 842.7,653.5 843.7,641.3 844.6,630.9 846.0,629.0 847.4,630.9 847.9,636.5 849.3,629.0 850.3,620.5 851.7,615.8 853.6,613.0 855.5,612.0 858.3,613.0 861.1,614.9 862.5,617.7 864.4,614.9 866.3,613.0 868.6,613.0 870.5,611.1 871.9,606.4 872.9,605.0 874.3,608.3 875.2,614.9 876.2,609.2 877.1,611.1 878.1,617.7 879.5,622.4 880.4,627.1 881.4,636.5 881.8,646.0 882.3,655.4 882.8,664.8 883.2,674.2 883.9,680.9 884.7,674.2 885.6,666.7 886.5,670.5 888.0,674.2 888.9,675.2 889.4,664.8 889.9,650.7 890.3,627.1 891.3,616.8 892.7,615.8 893.6,627.1 893.3,651.6 894.6,636.5 895.5,615.8 896.2,598.9 896.7,536.6 899.3,536.6 899.8,603.6 898.6,617.7"/>
<polyline stroke="#73be96" points="100.0,958.6 115.1,958.9 130.2,959.4 145.3,959.4 160.4,959.4 170.4,960.1 178.0,961.4 185.5,963.1 193.0,966.4 200.6,970.7 208.1,975.7 215.7,980.2 223.2,985.3 228.2,990.8 233.2,998.8 238.3,1007.1 243.3,1015.2 247.1,1018.9 250.8,1020.7 255.9,1021.2 260.9,1020.5 265.9,1017.9 270.9,1012.1 276.0,1005.4 281.0,1000.1 286.0,995.8 291.1,991.5 296.1,989.3 299.9,988.8 303.6,989.8 308.6,992.8 312.4,997.1 314.9,998.8 318.7,997.8 321.2,996.3 323.2,993.3 325.7,995.3 328.2,999.6 331.4,1004.4 333.1,1010.7 334.6,1018.2 336.1,1021.2 337.6,1017.0 339.1,1008.2 340.7,1005.2 343.2,1006.9 345.7,1009.4 347.7,1003.1 349.7,996.9 352.2,991.8 354.7,990.6 357.2,994.4 358.8,993.1 360.3,984.3 362.8,976.8 366.6,971.7 371.6,968.5 376.6,966.7 381.1,965.5 386.6,966.2 394.2,967.2 403.0,966.7 411.8,966.2 420.6,967.5 428.1,967.5 431.9,965.0 435.7,960.4 439.4,955.4 444.5,950.9 449.5,948.4 454.5,946.1 458.8,947.1 462.8,950.4 468.3,952.4 474.6,953.4 480.9,954.1 485.9,955.4 489.7,957.9 493.5,961.7 497.2,966.7 500.5,971.0 503.5,971.7 506.0,970.5 507.8,962.9 510.3,958.4 513.1,954.1 515.6,946.6 518.1,940.3 520.1,936.5 521.6,932.8 523.1,939.1 526.1,942.8 529.9,945.3 533.7,945.9 537.4,944.8 540.7,946.6 543.8,946.0 547.0,947.2 550.0,952.8 553.1,957.3 556.3,954.8 559.6,952.3 562.6,951.5 565.1,946.5 568.9,942.7 572.7,940.2 577.7,939.2 582.7,940.2 587.8,938.5 592.8,939.5 597.8,941.5 602.8,944.5 607.9,948.2 612.9,951.5 617.9,954.0 621.7,957.3 623.7,962.8 625.5,972.9 627.2,988.0 628.7,1005.5 630.5,1025.7 632.2,1045.8 634.0,1065.9 635.8,1083.5 637.5,1096.0 639.3,1106.1 641.3,1111.1 643.5,1109.8 645.5,1108.6 647.6,1112.4 648.8,1098.5 649.8,1083.5 651.3,1077.2 652.8,1083.5 654.4,1096.0 656.4,1104.8 658.1,1113.6 660.1,1122.4 662.4,1124.9 664.4,1119.9 666.2,1109.8 667.4,1108.6 668.2,1126.2 668.9,1151.3 669.7,1176.5 670.4,1189.0 671.2,1176.5 671.9,1151.3 672.7,1126.2 673.7,1106.1 675.2,1097.3 677.5,1092.3 680.0,1088.5 682.5,1085.5 684.0,1073.4 685.3,1063.4 687.0,1057.1 688.8,1053.3 690.3,1047.0 691.8,1039.5 693.3,1034.5 695.1,1033.2 696.6,1039.5 697.8,1055.8 698.8,1067.1 700.3,1060.8 701.9,1057.1 703.4,1065.9 704.9,1055.8 706.6,1052.0 708.4,1048.3 709.9,1040.7 711.6,1037.0 713.4,1037.0 714.9,1045.8 716.2,1060.8 717.2,1075.9 718.4,1086.0 720.2,1088.5 722.2,1084.7 724.2,1084.7 726.0,1093.5 727.2,1113.6 728.5,1138.8 729.8,1161.4 731.0,1172.7 733.0,1177.7 734.8,1179.0 736.0,1166.4 737.3,1138.8 738.5,1106.1 739.5,1086.0 740.8,1079.7 741.8,1091.0 742.6,1121.2 743.6,1096.0 744.6,1126.2 745.3,1152.6 746.1,1121.2 746.8,1091.0 748.1,1086.0 750.6,1084.7 753.1,1079.7 755.4,1077.2 757.6,1078.9 759.9,1079.7 760.2,1085.8 762.2,1094.6 764.0,1084.5 765.8,1073.2 767.8,1065.7 769.8,1058.1 772.0,1056.9 774.1,1063.2 775.3,1080.7 776.3,1100.8 777.3,1126.0 778.3,1146.1 779.6,1154.9 780.9,1146.1 782.1,1128.5 783.4,1126.0 784.9,1110.9 786.4,1090.8 787.9,1075.7 789.6,1066.9 791.6,1064.4 793.4,1066.9 795.4,1058.1 797.4,1048.1 799.7,1041.8 801.7,1034.2 803.5,1028.5 805.0,1040.5 806.0,1058.1 807.0,1064.4 808.5,1053.1 810.0,1028.0 811.5,1010.4 813.0,1002.3 815.0,1000.3 816.3,1007.9 817.0,1025.5 818.0,1034.2 820.5,1036.8 822.1,1048.1 823.6,1075.7 824.6,1110.9 825.6,1141.1 826.6,1149.8 827.6,1136.0 828.6,1110.9 829.9,1080.7 831.4,1055.6 833.1,1043.0 834.9,1041.8 836.6,1050.6 838.1,1075.7 839.0,1089.0 840.4,1082.4 841.8,1073.0 843.2,1062.6 844.1,1056.0 845.5,1054.1 847.4,1056.5 849.8,1059.3 852.1,1060.3 854.0,1064.5 855.5,1070.2 857.3,1076.8 859.2,1082.4 861.1,1089.0 862.5,1094.7 863.7,1099.4 865.8,1104.1 868.2,1107.9 869.6,1111.6 871.5,1110.7 873.8,1107.4 875.2,1109.8 876.2,1117.3 877.6,1118.2 879.0,1114.5 880.4,1120.1 881.4,1126.7 882.3,1134.2 883.2,1141.8 884.2,1148.4 885.1,1155.0 886.5,1159.7 887.7,1162.5 888.9,1160.6 889.9,1153.1 890.8,1141.8 891.7,1134.2 893.1,1132.8 895.0,1132.8"/>
</g>
<g fill="none" stroke-linecap="round" stroke-width="6">
<line x1="189.3" y1="56.3" x2="271.5" y2="56.3" stroke="#ff2f95"/>
<line x1="190.5" y1="467.7" x2="281" y2="467.7" stroke="#0a52ae"/>
<line x1="191" y1="877.4" x2="282" y2="877.4" stroke="#086946"/>
</g>
<line x1="601.1" y1="306.5" x2="621.2" y2="277.5" stroke="#c00000" stroke-width="3.6"/><polygon points="635.5,257.0 625.8,283.1 614.3,275.1" fill="#c00000"/>
<line x1="638.8" y1="321.8" x2="647.8" y2="294.1" stroke="#c00000" stroke-width="3.6"/><polygon points="655.6,270.3 653.9,298.1 640.6,293.8" fill="#c00000"/>
<line x1="702.9" y1="368.8" x2="715.6" y2="346.5" stroke="#c00000" stroke-width="3.6"/><polygon points="728.0,324.8 720.7,351.7 708.5,344.8" fill="#c00000"/>
<line x1="617.9" y1="734.9" x2="630.6" y2="712.6" stroke="#c00000" stroke-width="3.6"/><polygon points="643.0,690.9 635.7,717.8 623.6,710.9" fill="#c00000"/>
<line x1="698.3" y1="719.8" x2="700.9" y2="681.9" stroke="#c00000" stroke-width="3.6"/><polygon points="702.6,657.0 707.8,684.4 693.8,683.4" fill="#c00000"/>
<line x1="643.5" y1="819.6" x2="656.4" y2="797.5" stroke="#c00000" stroke-width="3.6"/><polygon points="668.9,775.8 661.4,802.7 649.3,795.7" fill="#c00000"/>
<line x1="791.1" y1="786.4" x2="802.8" y2="722.5" stroke="#c00000" stroke-width="3.6"/><polygon points="807.2,697.9 809.3,725.8 795.5,723.2" fill="#c00000"/>
<line x1="857.0" y1="815.3" x2="840.9" y2="790.3" stroke="#c00000" stroke-width="3.6"/><polygon points="827.3,769.3 847.9,788.2 836.1,795.8" fill="#c00000"/>
<line x1="795.9" y1="1158.6" x2="801.0" y2="1093.6" stroke="#c00000" stroke-width="3.6"/><polygon points="803.0,1068.7 807.8,1096.1 793.9,1095.0" fill="#c00000"/>
<line x1="853.2" y1="1196.8" x2="843.1" y2="1173.5" stroke="#c00000" stroke-width="3.6"/><polygon points="833.1,1150.6 850.3,1172.6 837.5,1178.2" fill="#c00000"/>
<g font-family="'Liberation Sans', Arial, Helvetica, sans-serif" font-weight="bold" fill="#000" stroke="#000" stroke-width="0.4" stroke-linejoin="round">
<text transform="translate(536.00,330.10) scale(0.927,1)" font-size="32" text-anchor="start">1632</text>
<text transform="translate(606.10,350.10) scale(0.927,1)" font-size="32" text-anchor="start">1540</text>
<text transform="translate(670.20,408.30) scale(0.927,1)" font-size="32" text-anchor="start">1250</text>
<text transform="translate(545.70,764.30) scale(0.927,1)" font-size="32" text-anchor="start">1605</text>
<text transform="translate(671.80,741.80) scale(0.970,1)" font-size="26.5" text-anchor="start">1382</text>
<text transform="translate(575.70,844.40) scale(0.927,1)" font-size="32" text-anchor="start">1513</text>
<text transform="translate(765.00,818.10) scale(0.946,1)" font-size="32" text-anchor="start">915</text>
<text transform="translate(836.50,845.80) scale(0.927,1)" font-size="32" text-anchor="start">830</text>
<text transform="translate(762.10,1194.10) scale(0.927,1)" font-size="32" text-anchor="start">915</text>
<text transform="translate(839.10,1229.00) scale(0.927,1)" font-size="32" text-anchor="start">830</text>
<text transform="translate(105.40,75.60) scale(0.962,1)" font-size="46.3" text-anchor="start">(a)</text>
<text transform="translate(105.10,484.40) scale(0.962,1)" font-size="46.3" text-anchor="start">(b)</text>
<text transform="translate(103.50,896.20) scale(0.962,1)" font-size="46.3" text-anchor="start">(c)</text>
<text transform="translate(282.40,69.60) scale(0.925,1)" font-size="40.0" text-anchor="start">PUF</text>
<text transform="translate(293.40,481.80) scale(0.966,1)" font-size="42.3" text-anchor="start">Epoxy resin</text>
<text transform="translate(293.70,892.20) scale(0.959,1)" font-size="42.8" text-anchor="start">Microcapsules</text>
<text transform="translate(98.90,1315.50) scale(0.945,1)" font-size="43.0" text-anchor="middle">4000</text>
<text transform="translate(213.50,1315.50) scale(0.945,1)" font-size="43.0" text-anchor="middle">3500</text>
<text transform="translate(328.10,1315.50) scale(0.945,1)" font-size="43.0" text-anchor="middle">3000</text>
<text transform="translate(442.70,1315.50) scale(0.945,1)" font-size="43.0" text-anchor="middle">2500</text>
<text transform="translate(557.30,1315.50) scale(0.945,1)" font-size="43.0" text-anchor="middle">2000</text>
<text transform="translate(671.90,1315.50) scale(0.945,1)" font-size="43.0" text-anchor="middle">1500</text>
<text transform="translate(786.60,1315.50) scale(0.945,1)" font-size="43.0" text-anchor="middle">1000</text>
<text transform="translate(901.20,1315.50) scale(0.945,1)" font-size="43.0" text-anchor="middle">500</text>
<text transform="translate(500.80,1385.80) scale(0.990,1)" font-size="49.5" text-anchor="middle">Wavenumber (cm<tspan font-size="32" dy="-23">-1</tspan><tspan dy="23">)</tspan></text>
<text transform="translate(61.3,627.0) rotate(-90) scale(0.988,1)" font-size="49.3" text-anchor="middle" stroke-width="0.15">Intensity (a.u.)</text>
</g>
</svg>
</body>
</html>
